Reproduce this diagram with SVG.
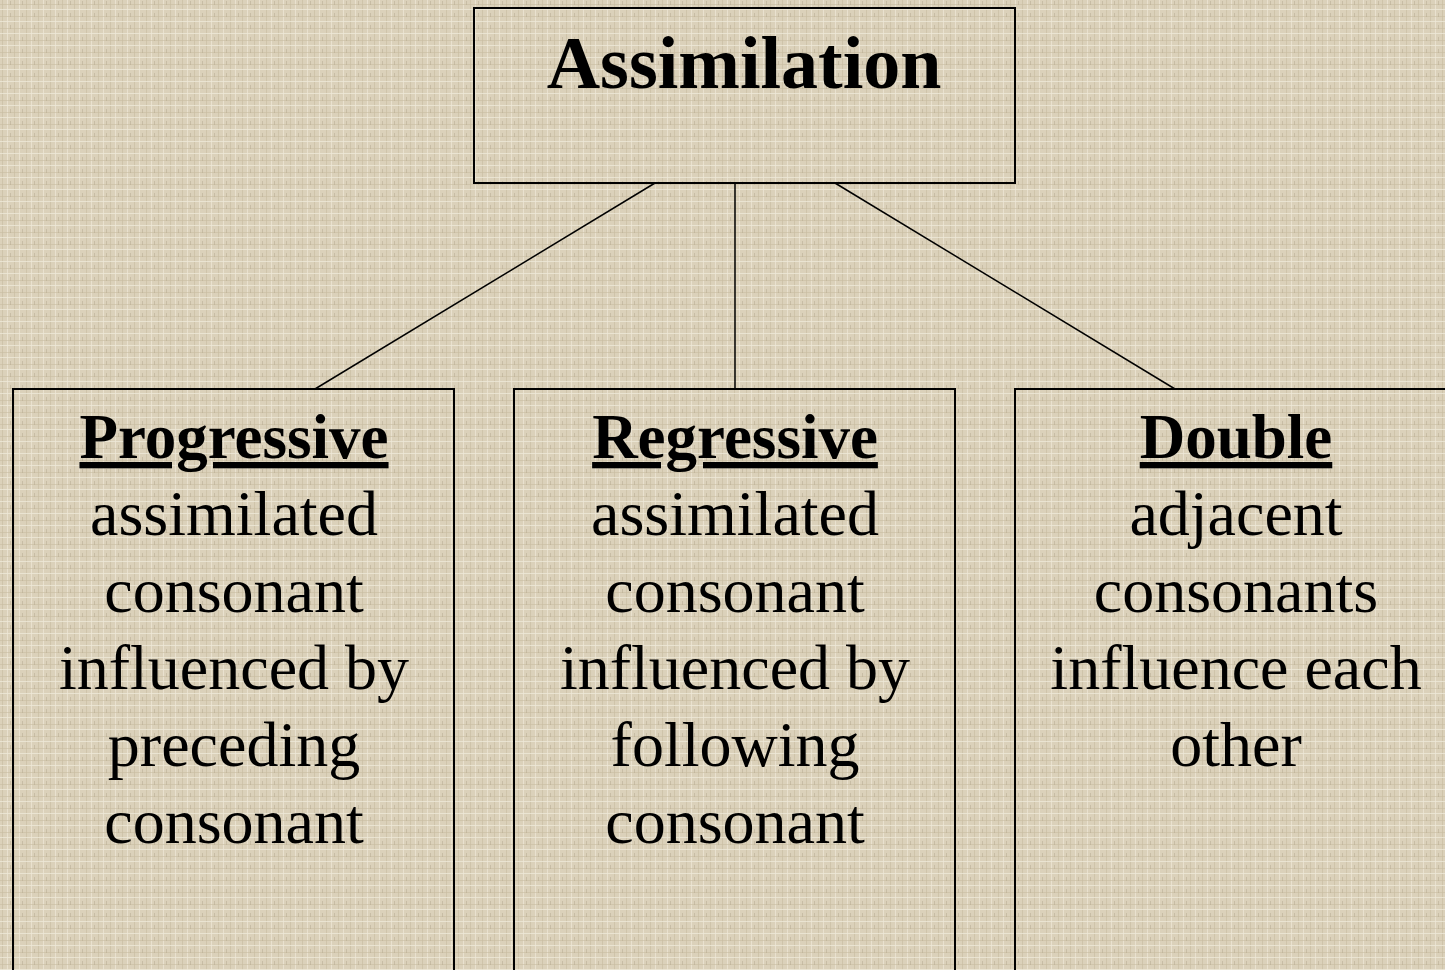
<svg xmlns="http://www.w3.org/2000/svg" width="1445" height="970" viewBox="0 0 1445 970">
<defs>
<pattern id="canvas" width="12" height="12" patternUnits="userSpaceOnUse">
<rect width="12" height="12" fill="#dbd1ba"/>
<rect x="2" width="1" height="12" fill="#c6baa0" opacity="0.6"/>
<rect x="7" width="1" height="12" fill="#ece5d4" opacity="0.8"/>
<rect y="4" width="12" height="1" fill="#c8bca2" opacity="0.6"/>
<rect y="9" width="12" height="1" fill="#eee8d8" opacity="0.8"/>
<rect x="10" y="1" width="1" height="4" fill="#b5a98f" opacity="0.5"/>
</pattern>
<style>
.box{fill:none;stroke:#000;stroke-width:2}
.conn line{stroke:#000;stroke-width:1.5}
.t{font-family:"Liberation Serif","Times New Roman",serif;fill:#000;text-anchor:middle}
.title{font-size:74px;font-weight:bold}
.head{font-size:63px;font-weight:bold;text-decoration:underline}
.body{font-size:64px}
</style>
</defs>
<rect width="1445" height="970" fill="url(#canvas)"/>
<g class="conn" id="connectors">
<line x1="655" y1="183" x2="315" y2="389"/>
<line x1="735" y1="183" x2="735" y2="389"/>
<line x1="835" y1="183" x2="1175" y2="389"/>
</g>
<g id="node-assimilation">
<rect class="box" x="474" y="8" width="541" height="175"/>
<text class="t title" x="744" y="88">Assimilation</text>
</g>
<g id="node-progressive">
<path class="box" d="M13,975 V389 H454 V975"/>
<text class="t head" x="234" y="458">Progressive</text>
<text class="t body" x="234" y="535">assimilated</text>
<text class="t body" x="234" y="612">consonant</text>
<text class="t body" x="234" y="689">influenced by</text>
<text class="t body" x="234" y="766">preceding</text>
<text class="t body" x="234" y="843">consonant</text>
</g>
<g id="node-regressive">
<path class="box" d="M514,975 V389 H955 V975"/>
<text class="t head" x="735" y="458">Regressive</text>
<text class="t body" x="735" y="535">assimilated</text>
<text class="t body" x="735" y="612">consonant</text>
<text class="t body" x="735" y="689">influenced by</text>
<text class="t body" x="735" y="766">following</text>
<text class="t body" x="735" y="843">consonant</text>
</g>
<g id="node-double">
<path class="box" d="M1015,975 V389 H1456"/>
<text class="t head" x="1236" y="458">Double</text>
<text class="t body" x="1236" y="535">adjacent</text>
<text class="t body" x="1236" y="612">consonants</text>
<text class="t body" x="1236" y="689">influence each</text>
<text class="t body" x="1236" y="766">other</text>
</g>
</svg>
